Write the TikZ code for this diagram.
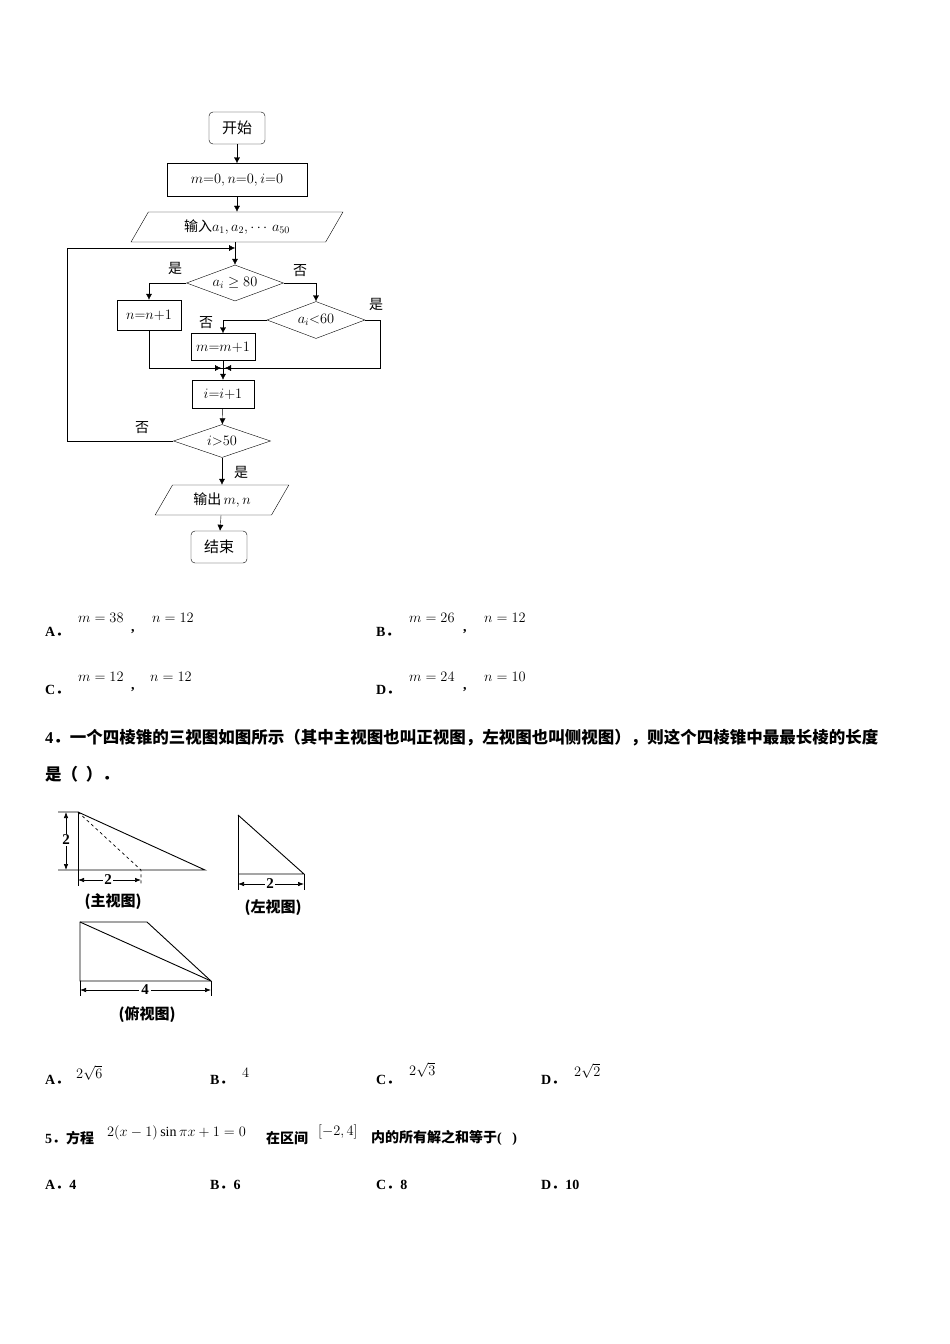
\documentclass[tikz,border=0pt]{standalone}
\usepackage{fontspec}
\setmainfont{Liberation Serif}
\newfontfamily\cjk{Noto Sans CJK SC}
\newcommand\fdot{{\cjk ．}}
\usetikzlibrary{shapes.geometric,arrows.meta}
\tikzset{
  box/.style={draw,minimum height=28pt,inner sep=2pt,font=\fontsize{14}{16}\selectfont},
  term/.style={box,rounded corners=4pt,minimum width=56pt,minimum height=32pt},
  io/.style={draw,trapezium,trapezium left angle=60,trapezium right angle=120,font=\fontsize{14}{16}\selectfont,inner sep=2pt,minimum height=30pt},
  dec/.style={draw,diamond,aspect=2.6,inner sep=0pt,font=\fontsize{14}{16}\selectfont},
  flow/.style={-{Latex[length=6pt,width=6pt]}},
  lab/.style={font=\cjk\fontsize{14}{16}\selectfont},
  txt/.style={anchor=west,font=\bfseries\fontsize{14}{16}\selectfont,inner sep=0pt},
  ans/.style={anchor=west,font=\fontsize{14}{16}\selectfont,inner sep=0pt},
  dim/.style={{Latex[length=6pt]}-{Latex[length=6pt]},line width=0.7pt}
}
\begin{document}
\begin{tikzpicture}[x=1pt,y=-1pt]
\useasboundingbox (0,0) rectangle (950,1344);
% flow chart
\node[term,font=\cjk\fontsize{15}{16}\selectfont] (start) at (237,128) {开始};
\node[box,minimum width=140pt,minimum height=33pt] (init) at (237,180) {$m{=}0,n{=}0,i{=}0$};
\node[io,minimum width=150pt] (input) at (237,227) {{\cjk 输入}$a_1,a_2,\cdots\,a_{50}$};
\node[dec,minimum width=97pt,minimum height=36pt] (big) at (235,283) {$a_i\geq80$};
\node[box,minimum width=64pt,minimum height=30pt] (addn) at (149,315) {$n{=}n{+}1$};
\node[dec,minimum width=98pt,minimum height=37pt] (small) at (316,320) {$a_i{<}60$};
\node[box,minimum width=64pt,minimum height=27pt] (addm) at (223,347) {$m{=}m{+}1$};
\node[box,minimum width=62pt,minimum height=28pt] (inc) at (223,394) {$i{=}i{+}1$};
\node[dec,minimum width=97pt,minimum height=33pt] (test) at (222,441) {$i{>}50$};
\node[io,minimum width=95pt] (output) at (222,500) {{\cjk 输出}\,$m,n$};
\node[term,font=\cjk\fontsize{15}{16}\selectfont] (stop) at (219,547) {结束};
\coordinate (merge) at (223,368);
\coordinate (loop) at (235,248);
\draw[flow] (start) -- (init);
\draw[flow] (init) -- (input);
\draw[flow] (input.south -| big.north) -- (big);
\draw[flow] (big.west) -| (addn.north);
\draw[flow] (big.east) -| (small.north);
\draw[flow] (small.west) -| (addm.north);
\draw (small.east) -| (380,368) -- (merge);
\draw (addn.south) |- (merge);
\draw[flow] (addm.south) -- (inc.north);
\draw[flow] (380,368) -- ([xshift=2pt]merge);
\draw[flow] (149,368) -- ([xshift=-2pt]merge);
\draw[flow] (inc) -- (test);
\draw[flow] (test.west) -| (67,248) -- (loop);
\draw[flow] (test) -- (output);
\draw[flow] (output) -- (stop);
\node[lab] at (175,268) {是};
\node[lab] at (300,271) {否};
\node[lab] at (376,304) {是};
\node[lab] at (206,323) {否};
\node[lab] at (142,428) {否};
\node[lab] at (241,472) {是};
% choices 3
\node[txt] (a3) at (45,632) {A\fdot};
\node[ans] at (78,618) {$m=38$};
\node[txt] at (131,632) {,};
\node[ans] at (152,618) {$n=12$};
\node[txt] (b3) at (376,632) {B\fdot};
\node[ans] at (409,618) {$m=26$};
\node[txt] at (463,632) {,};
\node[ans] at (484,618) {$n=12$};
\node[txt] (c3) at (45,690) {C\fdot};
\node[ans] at (78,677) {$m=12$};
\node[txt] at (131,690) {,};
\node[ans] at (150,677) {$n=12$};
\node[txt] (d3) at (376,690) {D\fdot};
\node[ans] at (409,677) {$m=24$};
\node[txt] at (463,690) {,};
\node[ans] at (484,677) {$n=10$};
% question 4
\node[txt,font=\bfseries\fontsize{16.5}{18}\selectfont] (q4) at (45,738) {4{\cjk\bfseries ．一个四棱锥的三视图如图所示（其中主视图也叫正视图，左视图也叫侧视图），则这个四棱锥中最最长棱的长度}};
\node[txt,font=\bfseries\fontsize{16.5}{18}\selectfont] (q4b) at (45,774) {\cjk\bfseries 是（\ \ ）．};
% front view
\draw[line width=0.9pt] (58,812) -- (78,812) -- (205,870) -- (58,870);
\draw[line width=0.9pt] (78,812) -- (78,886);
\draw[dashed,line width=0.7pt] (78,812) -- (141,870) -- (141,886);
\draw[dim] (66,812) -- (66,870);
\node[fill=white,inner sep=1pt,font=\bfseries\fontsize{15}{16}\selectfont] at (66,840) {2};
\draw[dim] (78,880) -- (141,880);
\node[fill=white,inner sep=1pt,font=\bfseries\fontsize{15}{16}\selectfont] at (108,880) {2};
\node[font=\cjk\bfseries\fontsize{15}{16}\selectfont] at (113,902) {(主视图)};
% side view
\draw[line width=0.9pt] (238,815) -- (238,890);
\draw[line width=0.9pt] (238,815) -- (304,874) -- (238,874);
\draw (304,874) -- (304,890);
\draw[dim] (238,884) -- (304,884);
\node[fill=white,inner sep=1pt,font=\bfseries\fontsize{15}{16}\selectfont] at (270,884) {2};
\node[font=\cjk\bfseries\fontsize{15}{16}\selectfont] at (273,908) {(左视图)};
% top view
\draw[line width=0.9pt] (80,922) -- (147,922) -- (211,981) -- (80,981) -- cycle;
\draw[line width=0.9pt] (80,922) -- (211,981);
\draw (80,981) -- (80,996) (211,981) -- (211,996);
\draw[dim] (80,990) -- (211,990);
\node[fill=white,inner sep=2pt,font=\bfseries\fontsize{15}{16}\selectfont] at (145,990) {4};
\node[font=\cjk\bfseries\fontsize{15}{16}\selectfont] at (147,1015) {(俯视图)};
% choices 4
\node[txt] (a4) at (45,1080) {A\fdot};
\node[ans] at (76,1073) {$2\sqrt{6}$};
\node[txt] (b4) at (210,1080) {B\fdot};
\node[ans] at (242,1073) {$4$};
\node[txt] (c4) at (376,1080) {C\fdot};
\node[ans] at (409,1070) {$2\sqrt{3}$};
\node[txt] (d4) at (541,1080) {D\fdot};
\node[ans] at (574,1071) {$2\sqrt{2}$};
% question 5
\node[txt] (q5) at (45,1138) {5\fdot{\cjk\bfseries 方程}};
\node[ans] at (107,1133) {$2(x-1)\sin\pi x+1=0$};
\node[txt] at (266,1138) {\cjk\bfseries 在区间};
\node[ans] at (318,1132) {$\left[-2,4\right]$};
\node[txt] at (371,1138) {{\cjk\bfseries 内的所有解之和等于}(\ \ \ )};
\node[txt] at (45,1185) {A\fdot 4};
\node[txt] at (210,1185) {B\fdot 6};
\node[txt] at (376,1185) {C\fdot 8};
\node[txt] at (541,1185) {D\fdot 10};
\end{tikzpicture}
\end{document}
